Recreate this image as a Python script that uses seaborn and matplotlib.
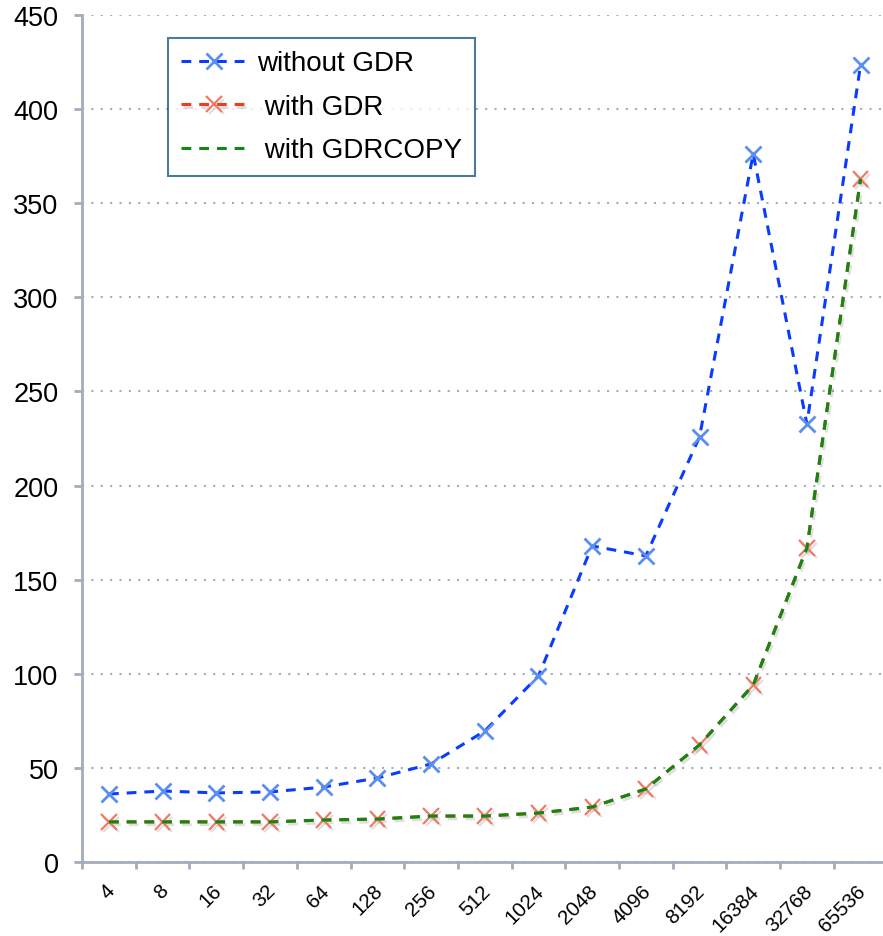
import seaborn as sns
import pandas as pd
import matplotlib.pyplot as plt
import matplotlib.patheffects as pe
from matplotlib.ticker import FixedLocator
from matplotlib.transforms import ScaledTranslation

# message sizes (x categories)
sizes = ['4', '8', '16', '32', '64', '128', '256', '512', '1024', '2048',
         '4096', '8192', '16384', '32768', '65536']
# latency values
without_gdr = [36.1, 37.7, 36.7, 37.2, 39.8, 44.6, 52.1, 69.6, 98.8, 167.9,
               162.6, 225.8, 376.2, 232.7, 423.5]
with_gdr = [21.3, 21.3, 21.3, 21.3, 22.3, 22.8, 24.4, 24.4, 26.0, 29.2,
            38.8, 62.2, 94.0, 166.8, 362.9]
with_gdrcopy = [21.3, 21.3, 21.3, 21.3, 22.3, 22.8, 24.4, 24.4, 26.0, 29.2,
                38.8, 62.2, 94.0, 166.8, 362.9]

plt.rcParams['font.family'] = ['Liberation Sans', 'DejaVu Sans']

df = pd.DataFrame({'size': sizes, 'without': without_gdr,
                   'gdr': with_gdr, 'gdrcopy': with_gdrcopy})

fig = plt.figure(figsize=(8.83, 9.37), dpi=100)
ax = fig.add_axes([0.093, 0.079, 0.912, 0.904])

shadow = [pe.SimpleLineShadow(offset=(1.5, -2), shadow_color='gray', alpha=0.25), pe.Normal()]

sns.lineplot(data=df, x='size', y='without', ax=ax, color='#0a3cff', lw=2.2,
             linestyle=(0, (3.2, 2.6)), marker='x', markersize=11,
             markeredgewidth=2, markeredgecolor='#5a8ef0', label='without GDR')
sns.lineplot(data=df, x='size', y='gdr', ax=ax, color='#f03c1e', lw=2.2,
             linestyle=(0, (3.2, 2.6)), marker='x', markersize=11,
             markeredgewidth=1.6, markeredgecolor='#f07a65',
             label=' with GDR')
ax.lines[-1].set_path_effects(shadow)
sns.lineplot(data=df, x='size', y='gdrcopy', ax=ax, color='#118811', lw=2.2,
             linestyle=(0, (3.2, 2.6)), label=' with GDRCOPY')

ax.set_xlim(-0.5, len(sizes) - 0.5)
ax.set_ylim(0, 450)
ax.set_yticks(range(0, 451, 50))
ax.set_xlabel('')
ax.set_ylabel('')

spine_c = '#a3abbd'
for s in ['top', 'right']:
    ax.spines[s].set_visible(False)
for s in ['left', 'bottom']:
    ax.spines[s].set_color(spine_c)
    ax.spines[s].set_linewidth(2)

ax.yaxis.grid(True, linestyle=(0, (1, 3.5)), color='#a3abbd', lw=1.5)
ax.set_axisbelow(True)

ax.tick_params(axis='y', labelsize=19.5, length=6, width=2, color=spine_c, pad=11)
ax.tick_params(axis='x', which='major', length=0, labelsize=14.8, pad=13.5)
ax.xaxis.set_minor_locator(FixedLocator([i - 0.5 for i in range(len(sizes) + 1)]))
ax.tick_params(axis='x', which='minor', length=5, width=2, color=spine_c)
shift = ScaledTranslation(9 / 100, 0, fig.dpi_scale_trans)
for lab in ax.get_xticklabels():
    lab.set_rotation(45)
    lab.set_rotation_mode('default')
    lab.set_ha('right')
    lab.set_va('top')
    lab.set_transform(lab.get_transform() + shift)

leg = ax.legend(loc='upper left', bbox_to_anchor=(0.107, 0.973), fontsize=20,
                frameon=True, fancybox=False, handlelength=2.4,
                borderpad=0.45, labelspacing=0.63, handletextpad=0.35,
                borderaxespad=0)
leg.get_frame().set_edgecolor('#1d5a84')
leg.get_frame().set_linewidth(1.5)
leg.legend_handles[2].set_marker('x')
leg.legend_handles[2].set_markeredgecolor('#f8f8f8')

fig.savefig('out.png', dpi=100)
